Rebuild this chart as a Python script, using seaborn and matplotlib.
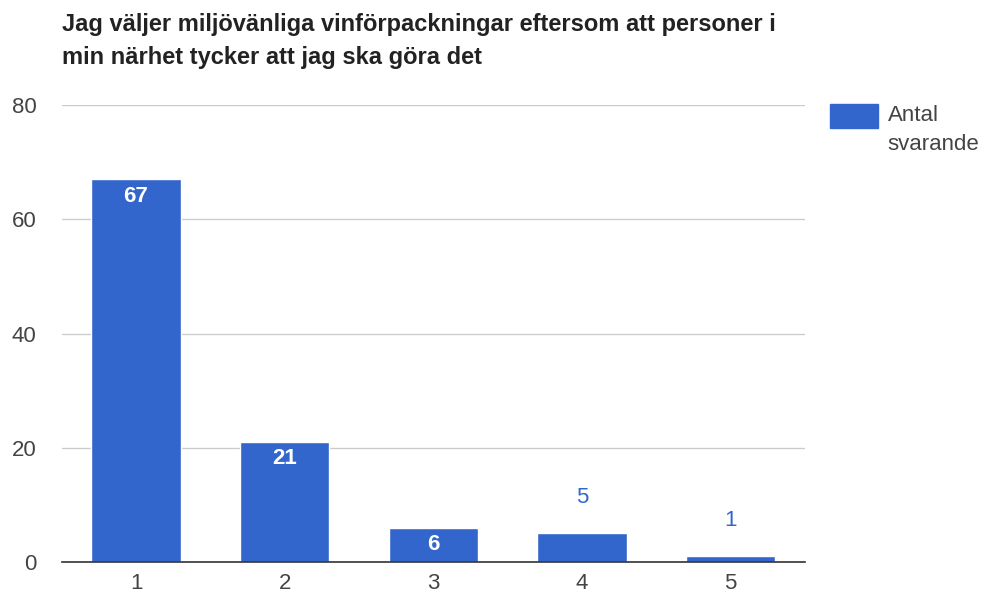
import matplotlib
matplotlib.use("Agg")
import matplotlib.pyplot as plt
import seaborn as sns
import pandas as pd
from matplotlib.patches import Rectangle

categories = ["1", "2", "3", "4", "5"]
counts = [67, 21, 6, 5, 1]
series_name = "Antal\nsvarande"
title = "Jag väljer miljövänliga vinförpackningar eftersom att personer i\nmin närhet tycker att jag ska göra det"

sns.set_style("white")
plt.rcParams["font.family"] = ["Liberation Sans", "DejaVu Sans"]

bar_color = "#3366cc"
tick_color = "#444444"
df = pd.DataFrame({"svar": categories, "antal": counts})

fig = plt.figure(figsize=(9.95, 6.01), dpi=100)
ax = fig.add_axes([0.062, 0.065, 0.747, 0.760])
sns.barplot(data=df, x="svar", y="antal", color=bar_color, saturation=1,
            width=0.6, ax=ax, zorder=3)

ax.set_ylim(0, 80)
ax.set_xlim(-0.5, 4.5)
ax.set_yticks([0, 20, 40, 60, 80])
ax.yaxis.grid(True, color="#cccccc", linewidth=1, zorder=0)
ax.set_xlabel("")
ax.set_ylabel("")
for s in ["top", "right", "left"]:
    ax.spines[s].set_visible(False)
ax.spines["bottom"].set_color("#333333")
ax.spines["bottom"].set_linewidth(1.2)
ax.spines["bottom"].set_zorder(4)
ax.tick_params(axis="both", length=0, labelsize=16, colors=tick_color)
ax.tick_params(axis="y", pad=18)
ax.tick_params(axis="x", pad=8)

# value labels: inside the bar when it is tall enough, above it otherwise
for i, v in enumerate(counts):
    if v >= 6:
        ax.text(i, v - 1.1, str(v), ha="center", va="top", color="white",
                fontsize=16, fontweight="bold", zorder=5)
    else:
        ax.text(i, v + 4.4, str(v), ha="center", va="bottom", color=bar_color,
                fontsize=16, zorder=5)

fig.text(0.062, 0.978, title, ha="left", va="top", fontsize=17,
         fontweight="bold", color="#222222", linespacing=1.55)

# legend swatch and label, right of the plot
fig.patches.append(Rectangle((0.834, 0.787), 0.048, 0.040, transform=fig.transFigure,
                             facecolor=bar_color, edgecolor=bar_color))
fig.text(0.892, 0.825, series_name, ha="left", va="top", fontsize=16,
         color=tick_color, linespacing=1.5)

fig.savefig("out.png", dpi=100)
